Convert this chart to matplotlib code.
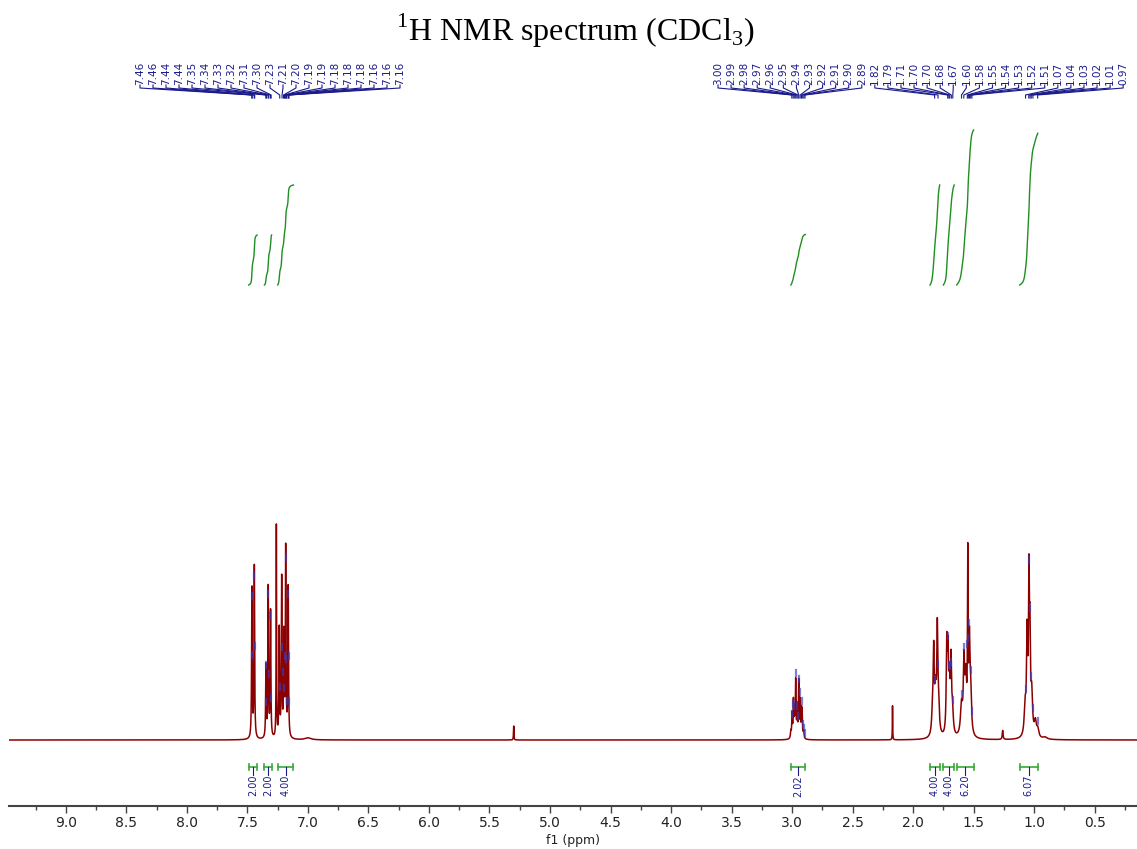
import numpy as np
import matplotlib
matplotlib.use("Agg")
import matplotlib.pyplot as plt

# ---------------- data ----------------
# spectrum lines: position (ppm), height (relative units ~ px), half width (ppm)
line_ppm = [7.463, 7.443, 7.347, 7.328, 7.309, 7.261, 7.237, 7.217, 7.199, 7.184, 7.163, 7.00,
            5.300,
            3.010, 3.000, 2.989, 2.980, 2.970, 2.958, 2.945, 2.933, 2.922, 2.917, 2.905,
            2.170,
            1.840, 1.830, 1.815, 1.800, 1.790, 1.722, 1.712, 1.700, 1.687, 1.675,
            1.600, 1.580, 1.565, 1.548, 1.535, 1.525,
            1.260,
            1.075, 1.058, 1.043, 1.035, 1.020, 0.990, 0.970, 0.91]
line_height = [150, 172, 72, 150, 126, 212, 108, 158, 100, 188, 150, 2,
               14,
               7, 24, 36, 26, 56, 30, 56, 36, 24, 22, 7,
               34,
               20, 78, 42, 98, 28, 86, 72, 50, 68, 25,
               30, 68, 55, 168, 82, 45,
               9,
               28, 100, 140, 90, 40, 15, 8, 2]
line_hwhm = [0.003, 0.003, 0.003, 0.003, 0.003, 0.002, 0.003, 0.003, 0.003, 0.003, 0.003, 0.03,
             0.002,
             0.004, 0.003, 0.003, 0.003, 0.003, 0.003, 0.003, 0.003, 0.003, 0.003, 0.004,
             0.0015,
             0.008, 0.005, 0.008, 0.005, 0.008, 0.005, 0.005, 0.006, 0.005, 0.008,
             0.010, 0.006, 0.008, 0.003, 0.005, 0.008,
             0.004,
             0.008, 0.006, 0.004, 0.005, 0.008, 0.010, 0.010, 0.02]

# picked peaks (labelled at the top)
pick_ppm = [7.464, 7.460, 7.444, 7.440, 7.348, 7.343, 7.329, 7.324, 7.310, 7.304,
            7.233, 7.214, 7.202, 7.194, 7.188, 7.183, 7.180, 7.176, 7.164, 7.160, 7.157,
            3.002, 2.991, 2.982, 2.970, 2.960, 2.951, 2.944, 2.933, 2.922, 2.912, 2.902, 2.893,
            1.822, 1.794, 1.714, 1.704, 1.697, 1.684, 1.672, 1.600,
            1.581, 1.552, 1.544, 1.534, 1.524, 1.514,
            1.071, 1.044, 1.034, 1.024, 1.010, 0.971]

# integrals
integral_start = [7.49, 7.36, 7.25, 3.01, 1.86, 1.75, 1.64, 1.12]
integral_end = [7.42, 7.30, 7.12, 2.89, 1.78, 1.66, 1.50, 0.97]
integral_value = [2.00, 2.00, 4.00, 2.02, 4.00, 4.00, 6.20, 6.07]

tick_major = [9.0, 8.5, 8.0, 7.5, 7.0, 6.5, 6.0, 5.5, 5.0, 4.5, 4.0, 3.5, 3.0, 2.5, 2.0, 1.5, 1.0, 0.5]
tick_labels = ["9.0", "8.5", "8.0", "7.5", "7.0", "6.5", "6.0", "5.5", "5.0", "4.5",
               "4.0", "3.5", "3.0", "2.5", "2.0", "1.5", "1.0", "0.5"]

# ---------------- layout ----------------
W, H = 1137, 849
X0_PX, X1_PX = 9, 1137
PPM_LEFT, PPM_RIGHT = 9.47, 0.15
AXIS_PX = 806
BASE_PX = 740
PX_PER_PPM = (X1_PX - X0_PX) / (PPM_LEFT - PPM_RIGHT)

SPEC_COLOR = "#8b0000"
BLUE = "#1a1a8a"
GREEN_CURVE = "#1f8f1f"
GREEN_BAR = "#3aa83a"


def py(p):
    """pixel row from top -> data y"""
    return AXIS_PX - p


def px2ppm(x):
    return PPM_LEFT - (x - X0_PX) / PX_PER_PPM


plt.rcParams["font.family"] = ["DejaVu Sans"]
plt.rcParams["mathtext.fontset"] = "custom"
plt.rcParams["mathtext.rm"] = "Liberation Serif"

fig = plt.figure(figsize=(W / 100, H / 100), dpi=100)
ax = fig.add_axes([X0_PX / W, (H - AXIS_PX) / H, (X1_PX - X0_PX) / W, AXIS_PX / H])
ax.set_xlim(PPM_LEFT, PPM_RIGHT)
ax.set_ylim(0, AXIS_PX)

# spectrum
x = np.linspace(PPM_LEFT, PPM_RIGHT, 400000)
spec = np.zeros_like(x)
for p0, h0, w0 in zip(line_ppm, line_height, line_hwhm):
    spec += h0 / (1.0 + ((x - p0) / w0) ** 2)
ax.plot(x, py(BASE_PX) + spec, color=SPEC_COLOR, lw=1.1, zorder=3)

# peak pick marks + labels
pick_arr = np.array(pick_ppm)
left_group = pick_arr > 5
label_px = np.empty(len(pick_arr))
nl = int(left_group.sum())
label_px[left_group] = 140 + 13.0 * np.arange(nl)
nr = len(pick_arr) - nl
label_px[~left_group] = 718 + 13.07 * np.arange(nr)
for p, lx in zip(pick_ppm, label_px):
    lppm = px2ppm(lx)
    ax.text(lppm, py(85), f"{p:.2f}", rotation=90, ha="center", va="bottom",
            fontsize=7.5, color=BLUE)
    ax.plot([lppm, lppm, p, p], [py(85), py(88), py(95), py(98)],
            color=BLUE, lw=0.8, zorder=4)
    yv = np.interp(-p, -x, spec)
    ax.plot([p, p], [py(BASE_PX) + yv + 2, py(BASE_PX) + yv + 8],
            color="#3a3ac0", lw=1.6, alpha=0.65, zorder=4)

# integrals
for s, e, v in zip(integral_start, integral_end, integral_value):
    m = (x <= s) & (x >= e)
    cum = np.cumsum(spec[m])
    cum = cum / cum[-1]
    ax.plot(x[m], py(285) + v * 25.0 * cum, color=GREEN_CURVE, lw=1.0, zorder=3)
    ax.plot([s, e], [py(767), py(767)], color=GREEN_BAR, lw=1.2)
    for q in (s, e):
        ax.plot([q, q], [py(764), py(770)], color=GREEN_BAR, lw=1.2)
    c = (s + e) / 2
    ax.plot([c, c], [py(767), py(775)], color=BLUE, lw=0.8)
    ax.text(c, py(775), f"{v:.2f}", rotation=90, ha="center", va="top",
            fontsize=7, color=BLUE)

# axes style
for sp in ("left", "right", "top"):
    ax.spines[sp].set_visible(False)
ax.spines["bottom"].set_color("#444444")
ax.spines["bottom"].set_linewidth(1.5)
ax.set_yticks([])
ax.set_xticks(tick_major)
ax.set_xticklabels(tick_labels)
ax.set_xticks(np.arange(9.25, 0.2, -0.5), minor=True)
ax.tick_params(axis="x", which="major", direction="out", length=5, width=1,
               color="#444444", labelsize=10, labelcolor="#222222", pad=2)
ax.tick_params(axis="x", which="minor", direction="out", length=3, width=1,
               color="#444444")
ax.set_xlabel("f1 (ppm)", fontsize=9, color="#222222", labelpad=3)

fig.text(0.506, 1 - 31 / H, r"$^{1}$H NMR spectrum (CDCl$_{3}$)", ha="center", va="center",
         fontsize=23, family="Liberation Serif")

fig.savefig("out.png", dpi=100)
